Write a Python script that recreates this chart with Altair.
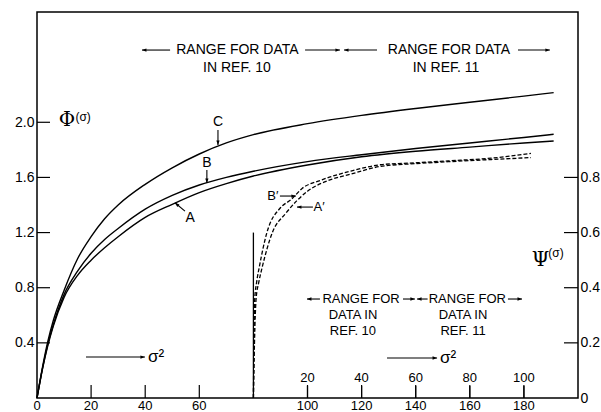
import altair as alt
import pandas as pd

# ---- Φ(σ) curves A, B, C against σ² (bottom scale) ----
sigma2 = [0, 2, 4, 6, 10, 15, 20, 25, 30, 40, 50, 60, 70, 80, 100, 120, 140, 160, 180, 191]
phi_a = [0, 0.21, 0.38, 0.52, 0.73, 0.89, 1.00, 1.09, 1.17, 1.31, 1.405, 1.49, 1.555, 1.61,
         1.69, 1.75, 1.79, 1.82, 1.85, 1.864]
phi_b = [0, 0.21, 0.39, 0.53, 0.75, 0.92, 1.05, 1.15, 1.23, 1.37, 1.47, 1.545, 1.60, 1.645,
         1.715, 1.765, 1.81, 1.85, 1.89, 1.913]
phi_c = [0, 0.22, 0.41, 0.56, 0.78, 1.01, 1.17, 1.30, 1.40, 1.55, 1.67, 1.77, 1.85, 1.91,
         1.99, 2.05, 2.10, 2.145, 2.19, 2.215]

# ---- Ψ(σ) curves A', B' against σ² on the inner scale (its zero sits at 80) ----
inner_origin = 80
s2_a_prime = [0, 0.4, 1.0, 2.0, 3.3, 7, 12, 16, 20, 28, 36, 47, 60, 72, 88, 102.6]
psi_a_prime = [0, 0.2, 0.36, 0.42, 0.476, 0.6, 0.67, 0.715, 0.75, 0.79, 0.812, 0.84, 0.85,
               0.857, 0.865, 0.872]
s2_b_prime = [0, 0.2, 0.5, 1.2, 2.2, 5, 10, 14, 18, 25, 36, 47, 60, 72, 88, 102.6]
psi_b_prime = [0, 0.2, 0.36, 0.42, 0.476, 0.6, 0.69, 0.72, 0.76, 0.79, 0.823, 0.846, 0.853,
               0.86, 0.87, 0.887]

# ---- axis ticks ----
x_ticks = [0, 20, 40, 60, 100, 120, 140, 160, 180]
phi_ticks = [0.4, 0.8, 1.2, 1.6, 2.0]
psi_ticks = [0, 0.2, 0.4, 0.6, 0.8]
inner_ticks = [20, 40, 60, 80, 100]
divider_top = 1.2  # height of the divider at the inner origin, Φ units

W, H = 541, 386
FONT = "Liberation Sans"
INK = "black"

xs = alt.Scale(domain=[0, 200], nice=False)
ys_phi = alt.Scale(domain=[0, 2.8], nice=False)
ys_psi = alt.Scale(domain=[0, 1.4], nice=False)

n = len(sigma2)
phi_df = pd.DataFrame({
    "s2": sigma2 * 3,
    "phi": phi_a + phi_b + phi_c,
    "curve": ["A"] * n + ["B"] * n + ["C"] * n,
})
psi_df = pd.DataFrame({
    "s2_inner": s2_a_prime + s2_b_prime,
    "psi": psi_a_prime + psi_b_prime,
    "curve": ["A'"] * len(s2_a_prime) + ["B'"] * len(s2_b_prime),
})

phi_axis = alt.Axis(values=phi_ticks, format=".1f", orient="left", domain=False,
                    ticks=False, grid=False, title=None, labelFont=FONT,
                    labelFontSize=14, labelPadding=3, labelColor=INK)
psi_axis = alt.Axis(values=psi_ticks, orient="right", domain=False, ticks=False,
                    grid=False, title=None, labelFont=FONT, labelFontSize=14,
                    labelPadding=2, labelColor=INK,
                    labelExpr="datum.value == 0 ? '0' : format(datum.value, '.1f')")

# Φ curves (carry the left axis)
phi_lines = alt.Chart(phi_df).mark_line(
    color=INK, strokeWidth=1.4, interpolate="monotone"
).encode(
    x=alt.X("s2:Q", scale=xs, axis=None),
    y=alt.Y("phi:Q", scale=ys_phi, axis=phi_axis),
    detail="curve:N",
)

# Ψ curves (dashed, carry the right axis)
psi_lines = alt.Chart(psi_df).transform_calculate(
    s2=f"datum.s2_inner + {inner_origin}"
).mark_line(color=INK, strokeWidth=1.3, strokeDash=[4, 2], interpolate="monotone").encode(
    x=alt.X("s2:Q", scale=xs, axis=None),
    y=alt.Y("psi:Q", scale=ys_psi, axis=psi_axis),
    detail="curve:N",
)

# bottom σ² scale: labels under the frame, inward tick marks
x_tick_df = pd.DataFrame({"t": x_ticks})
bottom_labels = alt.Chart(x_tick_df).mark_text(
    font=FONT, fontSize=13, color=INK, baseline="top"
).encode(x=alt.X("t:Q", scale=xs, axis=None), y=alt.value(H + 2), text="t:Q")
bottom_ticks = alt.Chart(x_tick_df).transform_filter("datum.t > 0").mark_rule(
    color=INK, strokeWidth=1.2).encode(
    x=alt.X("t:Q", scale=xs, axis=None), y=alt.value(H), y2=alt.value(H - 13))

left_ticks = alt.Chart(pd.DataFrame({"t": phi_ticks})).mark_rule(
    color=INK, strokeWidth=1.2).encode(
    y=alt.Y("t:Q", scale=ys_phi, axis=None), x=alt.value(0), x2=alt.value(13))
right_ticks = alt.Chart(pd.DataFrame({"t": psi_ticks})).transform_filter(
    "datum.t > 0").mark_rule(color=INK, strokeWidth=1.2).encode(
    y=alt.Y("t:Q", scale=ys_psi, axis=None), x=alt.value(W - 14), x2=alt.value(W))

# inner σ² scale: tick marks and labels
inner_marks = alt.Chart(pd.DataFrame({"t": inner_ticks})).transform_calculate(
    pos=f"datum.t + {inner_origin}")
inner_tick_rules = inner_marks.mark_rule(color=INK, strokeWidth=1.2).encode(
    x=alt.X("pos:Q", scale=xs, axis=None), y=alt.value(H), y2=alt.value(H - 12))
inner_labels = inner_marks.mark_text(font=FONT, fontSize=13, color=INK).encode(
    x=alt.X("pos:Q", scale=xs, axis=None), y=alt.value(H - 20), text="t:Q")

# divider at the inner origin
divider = alt.Chart(pd.DataFrame({"x": [inner_origin], "y0": [0], "y1": [divider_top]})
                    ).mark_rule(color=INK, strokeWidth=1.3).encode(
    x=alt.X("x:Q", scale=xs, axis=None),
    y=alt.Y("y0:Q", scale=ys_phi, axis=None), y2="y1:Q")

# annotation texts (Φ coordinates)
centered_text = pd.DataFrame([
    ("RANGE FOR DATA", 74.1, 2.524, 14),
    ("RANGE FOR DATA", 152.3, 2.524, 14),
    ("IN REF. 10", 73.9, 2.394, 14),
    ("IN REF. 11", 151.2, 2.394, 14),
    ("RANGE FOR", 119.8, 0.718, 13),
    ("RANGE FOR", 159.1, 0.718, 13),
    ("DATA  IN", 116.8, 0.602, 13),
    ("DATA  IN", 157.5, 0.602, 13),
    ("REF. 10", 116.8, 0.486, 13),
    ("REF. 11", 157.5, 0.486, 13),
    ("C", 66.9, 2.002, 14),
    ("B", 62.8, 1.705, 14),
    ("A", 56.6, 1.306, 14),
    ("B′", 87.2, 1.465, 13),
    ("A′", 104.3, 1.385, 13),
], columns=["label", "x", "y", "fs"])
left_text = pd.DataFrame([
    ("σ²", 41.0, 0.297, 17),
    ("σ²", 149.0, 0.290, 17),
    ("(σ)", 14.2, 2.04, 12),
    ("(σ)", 189.0, 1.052, 12),
], columns=["label", "x", "y", "fs"])
symbol_text = pd.DataFrame([
    ("Φ", 11.1, 2.017, 20),
    ("Ψ", 186.1, 1.001, 20),
], columns=["label", "x", "y", "fs"])


def text_layer(df, align, font):
    return alt.Chart(df).mark_text(align=align, baseline="middle", font=font, color=INK).encode(
        x=alt.X("x:Q", scale=xs, axis=None),
        y=alt.Y("y:Q", scale=ys_phi, axis=None),
        text="label:N",
        size=alt.Size("fs:Q", scale=None, legend=None),
    )


texts = [text_layer(centered_text, "center", FONT),
         text_layer(left_text, "left", FONT),
         text_layer(symbol_text, "center", "DejaVu Serif")]

# arrow shafts and heads (Φ coordinates)
shafts = pd.DataFrame([
    (38.8, 2.524, 49.2, 2.524), (99.1, 2.524, 112.0, 2.524),
    (113.5, 2.524, 125.7, 2.524), (177.8, 2.524, 189.6, 2.524),
    (99.8, 0.718, 104.6, 0.718), (135.3, 0.718, 139.7, 0.718),
    (140.5, 0.718, 144.4, 0.718), (174.1, 0.718, 179.3, 0.718),
    (18.1, 0.297, 39.9, 0.297), (129.4, 0.290, 147.9, 0.290),
    (66.9, 1.944, 66.9, 1.835), (62.8, 1.654, 62.8, 1.560),
    (54.7, 1.355, 51.0, 1.416),
    (89.8, 1.465, 95.7, 1.465), (102.0, 1.385, 96.1, 1.385),
], columns=["x1", "y1", "x2", "y2"])
heads = pd.DataFrame([
    (38.8, 2.524, 270), (112.0, 2.524, 90), (113.5, 2.524, 270), (189.6, 2.524, 90),
    (99.8, 0.718, 270), (139.7, 0.718, 90), (140.5, 0.718, 270), (179.3, 0.718, 90),
    (39.9, 0.297, 90), (147.9, 0.290, 90),
    (66.9, 1.835, 180), (62.8, 1.560, 180), (51.0, 1.416, 310),
    (95.7, 1.465, 90), (96.1, 1.385, 270),
], columns=["x", "y", "ang"])

shaft_layer = alt.Chart(shafts).mark_rule(color=INK, strokeWidth=1.1).encode(
    x=alt.X("x1:Q", scale=xs, axis=None), x2="x2:Q",
    y=alt.Y("y1:Q", scale=ys_phi, axis=None), y2="y2:Q")
head_layer = alt.Chart(heads).mark_point(
    shape="M0,0L0.55,1.5L-0.55,1.5Z", filled=True, color=INK, opacity=1, size=36
).encode(
    x=alt.X("x:Q", scale=xs, axis=None),
    y=alt.Y("y:Q", scale=ys_phi, axis=None),
    angle=alt.Angle("ang:Q", scale=None),
)

chart = alt.layer(
    phi_lines, psi_lines, bottom_labels, bottom_ticks, left_ticks, right_ticks,
    inner_tick_rules, inner_labels, divider, shaft_layer, head_layer, *texts
).resolve_scale(y="independent").properties(
    width=W, height=H,
    autosize=alt.AutoSizeParams(type="none"),
    padding={"left": 37, "top": 12, "right": 23, "bottom": 14},
    background="white",
).configure_view(stroke=INK, strokeWidth=1.5)

chart.save("out.html", embed_options={"renderer": "svg", "actions": False})
